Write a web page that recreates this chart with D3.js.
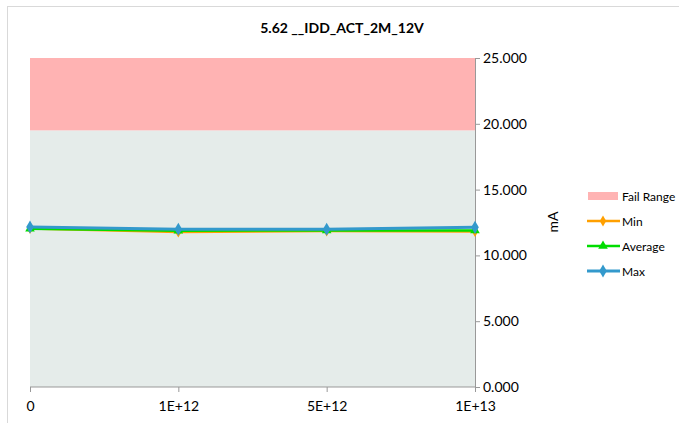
<!DOCTYPE html>
<html><head><meta charset="utf-8">
<script src="https://cdnjs.cloudflare.com/ajax/libs/d3/7.8.5/d3.min.js"></script>
<style>body{margin:0;background:#fff;} svg{display:block;} text{font-family:Lato,"Open Sans",sans-serif;}</style>
</head><body>
<svg id="c" width="679" height="423"></svg>
<script>
const categories = ["0", "1E+12", "5E+12", "1E+13"];
const minValues = [12.05, 11.78, 11.86, 11.82];
const avgValues = [12.02, 11.88, 11.90, 11.90];
const maxValues = [12.16, 11.99, 11.99, 12.13];
const failLow = 19.5, failHigh = 25;
const yTicks = [0, 5, 10, 15, 20, 25];
const seriesNames = ["Min", "Average", "Max"];
const seriesColors = ["#ffa000", "#00dd00", "#3399cc"];

const svg = d3.select("#c");
// outer chart border
svg.append("rect").attr("x", 7.5).attr("y", 6.5).attr("width", 700).attr("height", 450)
  .attr("fill", "#fff").attr("stroke", "#d9d9d9");

const L = 30, R = 475, T = 58, B = 387;
const x = d3.scalePoint().domain(categories).range([L, R]);
const y = d3.scaleLinear().domain([0, 25]).range([B, T]);

svg.append("rect").attr("x", L).attr("y", y(failLow)).attr("width", R - L).attr("height", B - y(failLow)).attr("fill", "#e5ecea");
svg.append("rect").attr("x", L).attr("y", y(failHigh)).attr("width", R - L).attr("height", y(failLow) - y(failHigh)).attr("fill", "#ffb3b3");

// right axis
const ya = svg.append("g").attr("transform", `translate(${R},0)`)
  .call(d3.axisRight(y).tickValues(yTicks).tickFormat(d3.format(".3f")).tickSize(5).tickPadding(4));
ya.select(".domain").attr("stroke", "#999");
ya.selectAll(".tick line").attr("stroke", "#999");
ya.selectAll("text").attr("font-size", 14).attr("fill", "#000").attr("x", 8);

// bottom axis
const xa = svg.append("g").attr("transform", `translate(0,${B})`)
  .call(d3.axisBottom(x).tickSize(5).tickPadding(9));
xa.select(".domain").attr("stroke", "#999").attr("d", `M${L},0H${R}`);
xa.selectAll(".tick line").attr("stroke", "#999");
xa.selectAll("text").attr("font-size", 14).attr("fill", "#000");

// title
svg.append("text").attr("x", 342).attr("y", 33).attr("text-anchor", "middle")
  .attr("font-size", 14).attr("font-weight", "bold").text("5.62 __IDD_ACT_2M_12V");

// y label
svg.append("text").attr("transform", "translate(558,222) rotate(-90)").attr("text-anchor", "middle")
  .attr("font-size", 14).text("mA");

const data = [minValues, avgValues, maxValues];
const line = d3.line().x((d, i) => x(categories[i])).y(d => y(d));
function marker(g, i, cx, cy, c) {
  if (i === 1) {
    g.append("path").attr("d", d3.symbol(d3.symbolTriangle, 40)()).attr("transform", `translate(${cx},${cy})`).attr("fill", c);
  } else {
    g.append("path").attr("d", d3.symbol(d3.symbolDiamond, i === 2 ? 50 : 36)()).attr("transform", `translate(${cx},${cy})`).attr("fill", c);
  }
}
data.forEach((vals, i) => {
  svg.append("path").datum(vals).attr("d", line).attr("fill", "none")
    .attr("stroke", seriesColors[i]).attr("stroke-width", i === 2 ? 3 : 2.5);
  vals.forEach((v, j) => marker(svg, i, x(categories[j]), y(v), seriesColors[i]));
});

// legend
const lg = svg.append("g");
lg.append("rect").attr("x", 588).attr("y", 192).attr("width", 30).attr("height", 8).attr("fill", "#ffb3b3");
lg.append("text").attr("x", 622).attr("y", 201).attr("font-size", 12).text("Fail Range");
seriesNames.forEach((n, i) => {
  const ly = 221 + i * 25;
  lg.append("line").attr("x1", 587).attr("x2", 620).attr("y1", ly).attr("y2", ly)
    .attr("stroke", seriesColors[i]).attr("stroke-width", i === 2 ? 3 : 2.5);
  marker(lg, i, 603, ly, seriesColors[i]);
  lg.append("text").attr("x", 622).attr("y", ly + 5).attr("font-size", 12).text(n);
});
</script>
</body></html>
